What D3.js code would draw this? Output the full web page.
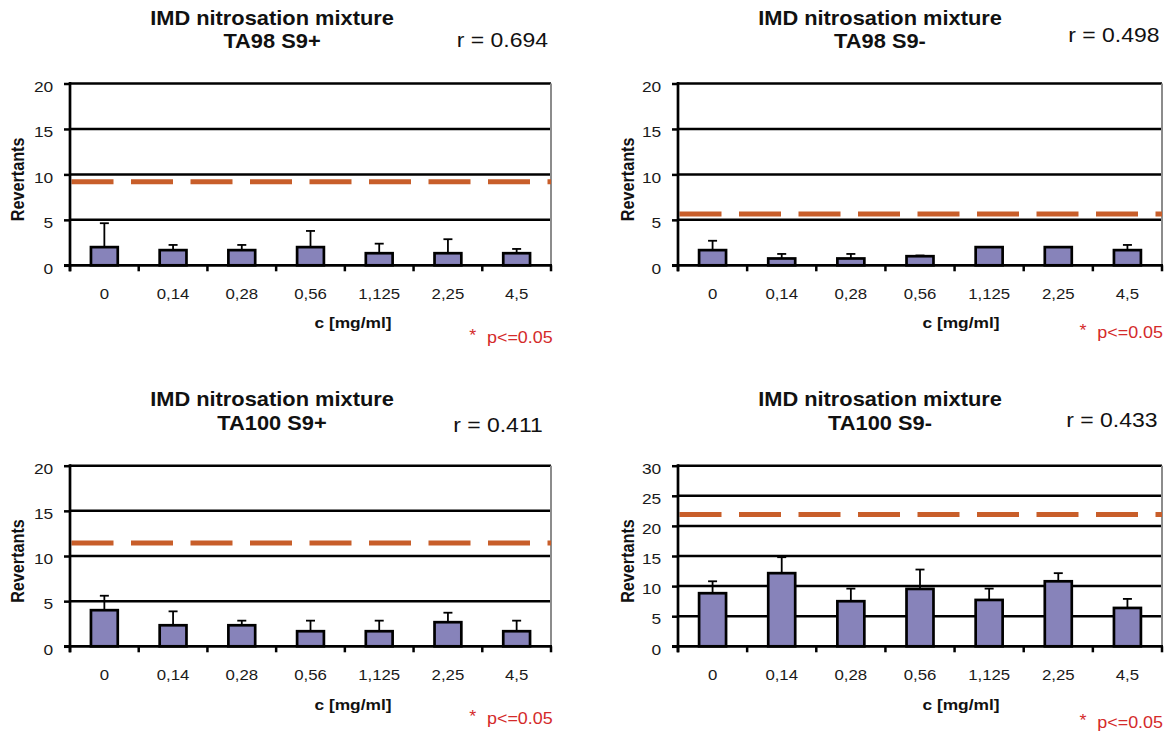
<!DOCTYPE html>
<html>
<head>
<meta charset="utf-8">
<script src="https://cdn.jsdelivr.net/npm/d3@7"></script>
<style>
  body { margin: 0; background: #fff; }
  svg { font-family: "Liberation Sans", Arial, sans-serif; }
</style>
</head>
<body>
<svg id="chart" width="1174" height="735"></svg>
<script>
// doses on the x axis
const doses = ["0", "0,14", "0,28", "0,56", "1,125", "2,25", "4,5"];

const strains = ["TA98 S9+", "TA98 S9-", "TA100 S9+", "TA100 S9-"];
const rValues = ["0.694", "0.498", "0.411", "0.433"];
const yMaxes = [20, 20, 20, 30];
const controlLines = [9.2, 5.65, 11.45, 21.9]; // dashed line (2x control)

const ta98PlusMean = [2, 1.67, 1.67, 2, 1.33, 1.33, 1.33];
const ta98PlusSd = [2.63, 0.57, 0.57, 1.78, 1.05, 1.54, 0.47];
const ta98MinusMean = [1.67, 0.75, 0.75, 1, 2, 2, 1.67];
const ta98MinusSd = [1.03, 0.5, 0.5, 0.08, 0, 0, 0.57];
const ta100PlusMean = [4, 2.33, 2.33, 1.67, 1.67, 2.67, 1.67];
const ta100PlusSd = [1.6, 1.54, 0.51, 1.17, 1.17, 1.05, 1.17];
const ta100MinusMean = [8.82, 12.15, 7.49, 9.53, 7.7, 10.8, 6.37];
const ta100MinusSd = [1.98, 2.65, 2.09, 3.22, 1.88, 1.35, 1.5];

const means = [ta98PlusMean, ta98MinusMean, ta100PlusMean, ta100MinusMean];
const sds = [ta98PlusSd, ta98MinusSd, ta100PlusSd, ta100MinusSd];

// panel boxes (pixels)
const boxes = [
  {left: 70, right: 551, top: 83.5, bottom: 265.3, t1: 25, t2: 48.3, rX: 548, rY: 46.7, tickY: 299, cY: 328, pX: 552.7, pY: 343, revX: 24},
  {left: 678, right: 1162, top: 83.5, bottom: 265.3, t1: 25, t2: 48.3, rX: 1159.5, rY: 41.7, tickY: 299, cY: 328, pX: 1163, pY: 338, revX: 634},
  {left: 70, right: 551, top: 465.7, bottom: 646.3, t1: 405.7, t2: 430, rX: 542.7, rY: 431.7, tickY: 680, cY: 710, pX: 552.7, pY: 724, revX: 24},
  {left: 678, right: 1162, top: 465.7, bottom: 646.3, t1: 405.7, t2: 430, rX: 1157.5, rY: 426.7, tickY: 680, cY: 710, pX: 1163, pY: 728.3, revX: 634}
];

const SX = 1.12; // the figure is a bit wider than the font
const svg = d3.select("#chart");

function stretchText(g, x, y, str) {
  return g.append("text")
    .attr("transform", `translate(${x},${y}) scale(${SX},1)`)
    .text(str);
}

boxes.forEach((b, i) => {
  const g = svg.append("g");

  const x = d3.scaleBand().domain(doses).range([b.left, b.right]).padding(0);
  const y = d3.scaleLinear().domain([0, yMaxes[i]]).range([b.bottom, b.top]);
  const yTicks = d3.range(0, yMaxes[i] + 1, 5);

  // horizontal grid lines
  g.selectAll(".grid")
    .data(yTicks.filter(t => t > 0))
    .enter()
    .append("line")
    .attr("x1", b.left)
    .attr("x2", b.right)
    .attr("y1", d => y(d))
    .attr("y2", d => y(d))
    .attr("stroke", "#000")
    .attr("stroke-width", 2.5);

  // gray right border
  g.append("line")
    .attr("x1", b.right).attr("x2", b.right)
    .attr("y1", y(yMaxes[i])).attr("y2", y(0))
    .attr("stroke", "#8c8c8c")
    .attr("stroke-width", 2);

  // dashed reference line
  g.append("line")
    .attr("x1", b.left + 1.5)
    .attr("x2", b.right)
    .attr("y1", y(controlLines[i]))
    .attr("y2", y(controlLines[i]))
    .attr("stroke", "#c85e2a")
    .attr("stroke-width", 5)
    .attr("stroke-dasharray", "42,17.5");

  const rows = doses.map((d, j) => ({dose: d, mean: means[i][j], sd: sds[i][j]}));
  const barW = x.bandwidth() * 0.39;

  // error bars (upper only)
  const err = g.selectAll(".err").data(rows.filter(r => r.sd > 0)).enter().append("g");
  err.append("line")
    .attr("x1", d => x(d.dose) + x.bandwidth() / 2)
    .attr("x2", d => x(d.dose) + x.bandwidth() / 2)
    .attr("y1", d => y(d.mean))
    .attr("y2", d => y(d.mean + d.sd))
    .attr("stroke", "#000")
    .attr("stroke-width", 1.8);
  err.append("line")
    .attr("x1", d => x(d.dose) + x.bandwidth() / 2 - 4.5)
    .attr("x2", d => x(d.dose) + x.bandwidth() / 2 + 4.5)
    .attr("y1", d => y(d.mean + d.sd))
    .attr("y2", d => y(d.mean + d.sd))
    .attr("stroke", "#000")
    .attr("stroke-width", 1.8);

  // bars
  g.selectAll(".bar")
    .data(rows)
    .enter()
    .append("rect")
    .attr("x", d => x(d.dose) + (x.bandwidth() - barW) / 2)
    .attr("y", d => y(d.mean))
    .attr("width", barW)
    .attr("height", d => y(0) - y(d.mean))
    .attr("fill", "#8783ba")
    .attr("stroke", "#000")
    .attr("stroke-width", 2.7);

  // y axis
  const yAxis = g.append("g")
    .attr("transform", `translate(${b.left},0)`)
    .call(d3.axisLeft(y).tickValues(yTicks).tickSize(6).tickPadding(9));
  yAxis.select(".domain").remove();
  yAxis.selectAll(".tick line").attr("stroke", "#000").attr("stroke-width", 2.5);
  yAxis.selectAll(".tick text")
    .attr("font-size", 15.5)
    .attr("fill", "#1a1a1a")
    .attr("dy", "0.5em")
    .attr("transform", `scale(${SX},1)`);
  g.append("line")
    .attr("x1", b.left).attr("x2", b.left)
    .attr("y1", b.top - 1.5).attr("y2", b.bottom + 6)
    .attr("stroke", "#000").attr("stroke-width", 2.7);

  // x axis: labels at band centres, ticks at band edges
  const xAxis = g.append("g")
    .attr("transform", `translate(0,${b.bottom})`)
    .call(d3.axisBottom(x).tickSize(0).tickPadding(0));
  xAxis.select(".domain").remove();
  xAxis.selectAll(".tick text")
    .attr("font-size", 15)
    .attr("fill", "#1a1a1a")
    .attr("y", b.tickY - b.bottom)
    .attr("dy", 0)
    .attr("transform", `scale(${SX},1)`);
  g.append("line")
    .attr("x1", b.left - 6).attr("x2", b.right + 1)
    .attr("y1", b.bottom).attr("y2", b.bottom)
    .attr("stroke", "#000").attr("stroke-width", 2.7);
  g.selectAll(".xtick")
    .data(d3.range(doses.length + 1))
    .enter()
    .append("line")
    .attr("x1", k => b.left + k * x.step())
    .attr("x2", k => b.left + k * x.step())
    .attr("y1", b.bottom)
    .attr("y2", b.bottom + 6)
    .attr("stroke", "#000")
    .attr("stroke-width", 2.5);

  // titles
  const tx = b.left + 202;
  stretchText(g, tx, b.t1, "IMD nitrosation mixture")
    .attr("text-anchor", "middle").attr("font-weight", "bold").attr("font-size", 19.5).attr("fill", "#111");
  stretchText(g, tx, b.t2, strains[i])
    .attr("text-anchor", "middle").attr("font-weight", "bold").attr("font-size", 19.5).attr("fill", "#111");
  stretchText(g, b.rX, b.rY, "r = " + rValues[i])
    .attr("text-anchor", "end").attr("font-size", 20.5).attr("fill", "#111");

  // axis titles
  stretchText(g, b.left + 283, b.cY, "c [mg/ml]")
    .attr("text-anchor", "middle").attr("font-weight", "bold").attr("font-size", 15.5).attr("fill", "#111");
  g.append("text")
    .attr("transform", `translate(${b.revX},${(b.top + b.bottom) / 2 + 5}) rotate(-90) scale(1,${SX})`)
    .attr("text-anchor", "middle")
    .attr("font-weight", "bold")
    .attr("font-size", 16.2)
    .attr("fill", "#111")
    .text("Revertants");

  // significance note
  stretchText(g, b.pX, b.pY, "p<=0.05")
    .attr("text-anchor", "end").attr("font-size", 16).attr("fill", "#d42a2a");
  stretchText(g, b.pX - 80, b.pY - 2, "*")
    .attr("text-anchor", "middle").attr("font-size", 16).attr("fill", "#d42a2a");
});
</script>
</body>
</html>
